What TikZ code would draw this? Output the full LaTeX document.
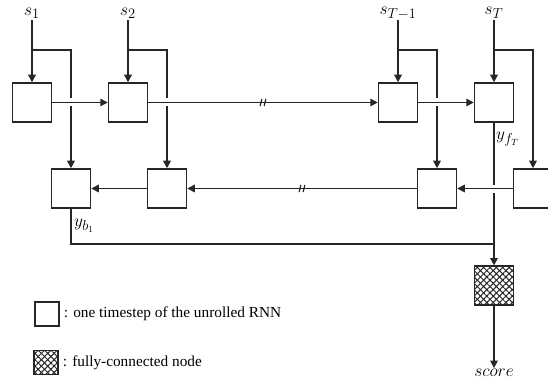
\documentclass[tikz,border=0pt]{standalone}
\usepackage{fontspec}
\setmainfont{Liberation Serif}
\usepackage{tikz}
\usetikzlibrary{arrows.meta,positioning,calc,patterns.meta}
\definecolor{lineGray}{HTML}{262626}

\tikzset{
  cell/.style={draw=lineGray,line width=1.5pt,fill=white,minimum width=39pt,minimum height=39pt,inner sep=0pt},
  fcnode/.style={cell,pattern={Lines[angle=45,distance=4.5pt,line width=1pt]},pattern color=lineGray,
    preaction={pattern={Lines[angle=-45,distance=4.5pt,line width=1pt]},pattern color=lineGray}},
  link/.style={draw=lineGray,line width=1.5pt},
  arrow/.style={link,-{Triangle[length=7.5pt,width=7.5pt]}},
  lab/.style={inner sep=1pt,font=\fontsize{19}{22}\selectfont},
}

\begin{document}
\begin{tikzpicture}[x=1pt,y=-1pt]
\useasboundingbox (0,0) rectangle (548,382);

% forward and backward cells
\foreach \n/\x in {1/32,2/128,3/398,4/494}
  \node[cell] (f\n) at (\x,102.5) {};
\foreach \n/\x in {1/71,2/167,3/437,4/533}
  \node[cell] (b\n) at (\x,188.5) {};
\node[fcnode] (fc) at (494,285.5) {};

% inputs
\node[lab] (s1) at (32,13) {$s_1$};
\node[lab] (s2) at (128,13) {$s_2$};
\node[lab] (s3) at (398,13) {$s_{T-1}$};
\node[lab] (s4) at (494,13) {$s_T$};
\node[lab,font=\fontsize{17}{20}\selectfont] (score) at (494,373) {$score$};

% input feeds to both directions
\foreach \n in {1,2,3,4} {
  \draw[arrow] (s\n.south) -- (f\n.north);
  \draw[arrow] (s\n.south |- 0,50) -| (b\n.north);
}

% readout
\coordinate (join) at (f4 |- 0,244);
\draw[arrow] (f4.south) -- (fc.north);
\draw[link] (b1.south) |- (join);
\draw[arrow] (fc.south) -- (score.north);
\node[lab,anchor=west] at (495,139) {$y_{f_T}$};
\node[lab,anchor=west] at (73,226) {$y_{b_1}$};

% gaps where the vertical lines pass under
\foreach \c in {b1 |- f1,b2 |- f2,b3 |- f3,f4 |- b4}
  \fill[white] ($(\c)+(-3,-4)$) rectangle ($(\c)+(3,4)$);

% recurrent links
\draw[arrow] (f1) -- (f2);
\draw[arrow] (f2) -- (f3);
\draw[arrow] (f3) -- (f4);
\draw[arrow] (b4) -- (b3);
\draw[arrow] (b3) -- (b2);
\draw[arrow] (b2) -- (b1);
\foreach \x/\y in {263/102.5,302/188.5} {
  \draw[lineGray,line width=1.2pt] (\x-2.8,\y+3.5) -- (\x-1.2,\y-3.5);
  \draw[lineGray,line width=1.2pt] (\x+1.2,\y+3.5) -- (\x+2.8,\y-3.5);
}

% legend
\node[cell,minimum width=24pt,minimum height=24pt] (leg1) at (47,314) {};
\node[fcnode,minimum width=24pt,minimum height=24pt] (leg2) at (46,362.5) {};
\node[right=3pt of leg1,inner sep=1pt,font=\fontsize{15.3}{18}\selectfont] {: one timestep of the unrolled RNN};
\node[right=3pt of leg2,inner sep=1pt,font=\fontsize{15.3}{18}\selectfont] {: fully-connected node};
\end{tikzpicture}
\end{document}
